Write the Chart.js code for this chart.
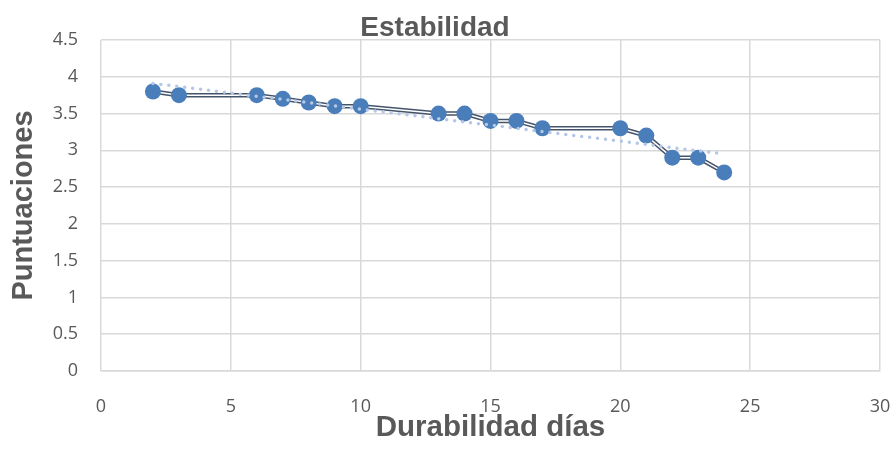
<!DOCTYPE html>
<html>
<head>
<meta charset="utf-8">
<script src="https://cdn.jsdelivr.net/npm/chart.js@4"></script>
<style>
    html, body { margin: 0; padding: 0; background: #fff; }
    #wrap { width: 892px; height: 455px; }
</style>
</head>
<body>
<div id="wrap"><canvas id="stabilityChart"></canvas></div>
<script>
"use strict";

// Datos
const dias = [2, 3, 6, 7, 8, 9, 10, 13, 14, 15, 16, 17, 20, 21, 22, 23, 24];
const puntuaciones = [3.8, 3.75, 3.75, 3.7, 3.65, 3.6, 3.6, 3.5, 3.5, 3.4, 3.4, 3.3, 3.3, 3.2, 2.9, 2.9, 2.7];
// línea de tendencia (extremos)
const tendenciaX = [2, 24];
const tendenciaY = [3.91, 2.95];

const titulo = "Estabilidad";
const textColor = "#595959";
const gridColor = "#d9d9d9";

const serie = dias.map((d, i) => ({ x: d, y: puntuaciones[i] }));
const tendencia = tendenciaX.map((d, i) => ({ x: d, y: tendenciaY[i] }));

// título dibujado a mano (en Excel no queda centrado del todo)
const tituloPlugin = {
    id: "tituloPlugin",
    afterDraw(chart) {
        const c = chart.ctx;
        c.save();
        c.fillStyle = textColor;
        c.font = "bold 28px 'Liberation Sans'";
        c.textAlign = "center";
        c.textBaseline = "alphabetic";
        c.fillText(titulo, 435, 36);
        c.restore();
    }
};

const ctx = document.getElementById("stabilityChart").getContext("2d");
new Chart(ctx, {
    type: "scatter",
    data: {
        datasets: [
            {
                label: "Tendencia",
                data: tendencia,
                showLine: true,
                borderColor: "#b4c7e7",
                borderWidth: 3.5,
                borderDash: [0, 8],
                borderCapStyle: "round",
                pointRadius: 0,
                order: 0
            },
            {
                label: "Puntos",
                data: serie,
                showLine: false,
                backgroundColor: "#4a7ebb",
                borderWidth: 0,
                pointRadius: 8,
                order: 1
            },
            {
                label: "Linea interior",
                data: serie,
                showLine: true,
                borderColor: "#ffffff",
                borderWidth: 1.5,
                pointRadius: 0,
                order: 2
            },
            {
                label: "Linea",
                data: serie,
                showLine: true,
                borderColor: "#44546a",
                borderWidth: 4.5,
                pointRadius: 0,
                order: 3
            }
        ]
    },
    options: {
        responsive: true,
        maintainAspectRatio: false,
        animation: false,
        layout: { padding: { top: 40, right: 0, left: 0, bottom: 0 } },
        plugins: {
            legend: { display: false },
            tooltip: { enabled: false },
            title: { display: false }
        },
        scales: {
            x: {
                type: "linear",
                min: 0,
                max: 30,
                ticks: {
                    stepSize: 5,
                    color: textColor,
                    padding: 25,
                    maxRotation: 0,
                    font: { family: "Open Sans", size: 18 }
                },
                grid: { color: gridColor, lineWidth: 1.5, drawTicks: false },
                border: { color: gridColor, width: 1.5 },
                title: {
                    display: true,
                    text: "Durabilidad días",
                    color: textColor,
                    font: { family: "Liberation Sans", size: 29.5, weight: "bold" },
                    padding: { top: 0, bottom: 9 }
                },
                afterFit: (scale) => {
                    scale.height = 84;
                    scale.paddingLeft = 0;
                    scale.paddingRight = 12;
                }
            },
            y: {
                min: 0,
                max: 4.5,
                ticks: {
                    stepSize: 0.5,
                    color: textColor,
                    padding: 23,
                    font: { family: "Open Sans", size: 18 },
                    callback: (v) => v.toString()
                },
                grid: { color: gridColor, lineWidth: 1.5, drawTicks: false },
                border: { display: false },
                title: {
                    display: true,
                    text: "Puntuaciones",
                    color: textColor,
                    font: { family: "Liberation Sans", size: 29, weight: "bold" },
                    padding: { top: 7, bottom: 0 }
                },
                afterFit: (scale) => { scale.width = 101; }
            }
        }
    },
    plugins: [tituloPlugin]
});
</script>
</body>
</html>
